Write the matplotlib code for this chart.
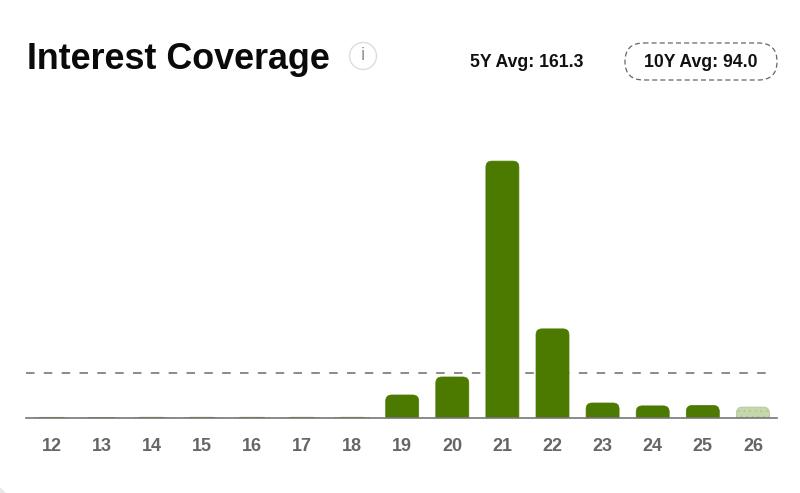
#!/usr/bin/python3
import matplotlib
matplotlib.use("Agg")
import matplotlib.pyplot as plt
from matplotlib.patches import FancyBboxPatch, Circle

plt.rcParams["font.family"] = ["Liberation Sans", "DejaVu Sans"]
plt.rcParams["hatch.linewidth"] = 0.5

# values
years = ["12", "13", "14", "15", "16", "17", "18", "19", "20", "21", "22", "23", "24", "25", "26"]
coverage = [0.4, 0.3, 0.5, 0.5, 0.5, 0.5, 0.5, 47.5, 85.5, 541, 187, 30.6, 24.5, 25.5, 22]
avg_5y = 161.3
avg_10y = 94.0
forecast = ["26"]

GREEN = "#4c7a00"
LIGHT_GREEN = "#c6d7ae"
W, H = 800, 493

fig = plt.figure(figsize=(W / 100, H / 100), dpi=100, facecolor="#ffffff")

# overlay in pixel coordinates for the header
bg = fig.add_axes([0, 0, 1, 1])
bg.set_xlim(0, W)
bg.set_ylim(H, 0)
bg.axis("off")

# bit of the card corner showing at bottom left
bg.fill([0, 0, 6], [487, H, H], color="#e8e8e8", lw=0)

bg.text(27, 59.5, "Interest Coverage", fontsize=25.8, fontweight="bold", color="#0a0a0a", va="center", ha="left")
bg.add_patch(Circle((363, 56), 13.5, fc="white", ec="#dddddd", lw=1))
bg.text(363, 56, "i", fontsize=14, color="#999999", va="center", ha="center")
bg.text(526.5, 62.5, f"5Y Avg: {avg_5y}", fontsize=12.7, fontweight="bold", color="#111111", va="center", ha="center")
bg.add_patch(FancyBboxPatch((625, 43), 152, 37, boxstyle="round,pad=0,rounding_size=18.5",
                            fc="none", ec="#666666", lw=0.9, ls=(0, (4, 2.5))))
bg.text(701, 62.5, f"10Y Avg: {avg_10y:.1f}", fontsize=12.7, fontweight="bold", color="#111111", va="center", ha="center")

# chart axes, x 26-777 and baseline at y=417.5
left, right, top, base = 26, 777, 100, 417.5
ax = fig.add_axes([left / W, 1 - base / H, (right - left) / W, (base - top) / H])
ax.patch.set_alpha(0)
x_step = 50.1
y_scale = 2.11
ax.set_xlim((left - 51.5) / x_step, (right - 51.5) / x_step)
ax.set_ylim(0, (base - top) * y_scale)

# average line stops a little short of the axis end
ax.plot([0, 742 / 751], [avg_10y, avg_10y], transform=ax.get_yaxis_transform(), color="#777777", lw=1.2,
        dashes=(5.1, 5.6), zorder=1)

bar_w = 33 / x_step
radius = 6 / x_step
aspect = x_step * y_scale
for i, (yr, v) in enumerate(zip(years, coverage)):
    est = yr in forecast
    extra = radius * aspect
    p = FancyBboxPatch((i - bar_w / 2, -extra), bar_w, v + extra,
                       boxstyle=f"round,pad=0,rounding_size={radius}", mutation_aspect=aspect,
                       fc=LIGHT_GREEN if est else GREEN, ec="#a9c488" if est else GREEN, lw=0.5,
                       hatch="..." if est else None, zorder=2)
    ax.add_patch(p)

for s in ["top", "left", "right"]:
    ax.spines[s].set_visible(False)
ax.spines["bottom"].set_color("#777777")
ax.spines["bottom"].set_linewidth(1.2)
ax.set_yticks([])
ax.set_xticks(range(len(years)))
ax.set_xticklabels(years, fontsize=13, fontweight="bold", color="#666666")
ax.tick_params(axis="x", length=0, pad=14.5)

fig.savefig("out.png", dpi=100)
